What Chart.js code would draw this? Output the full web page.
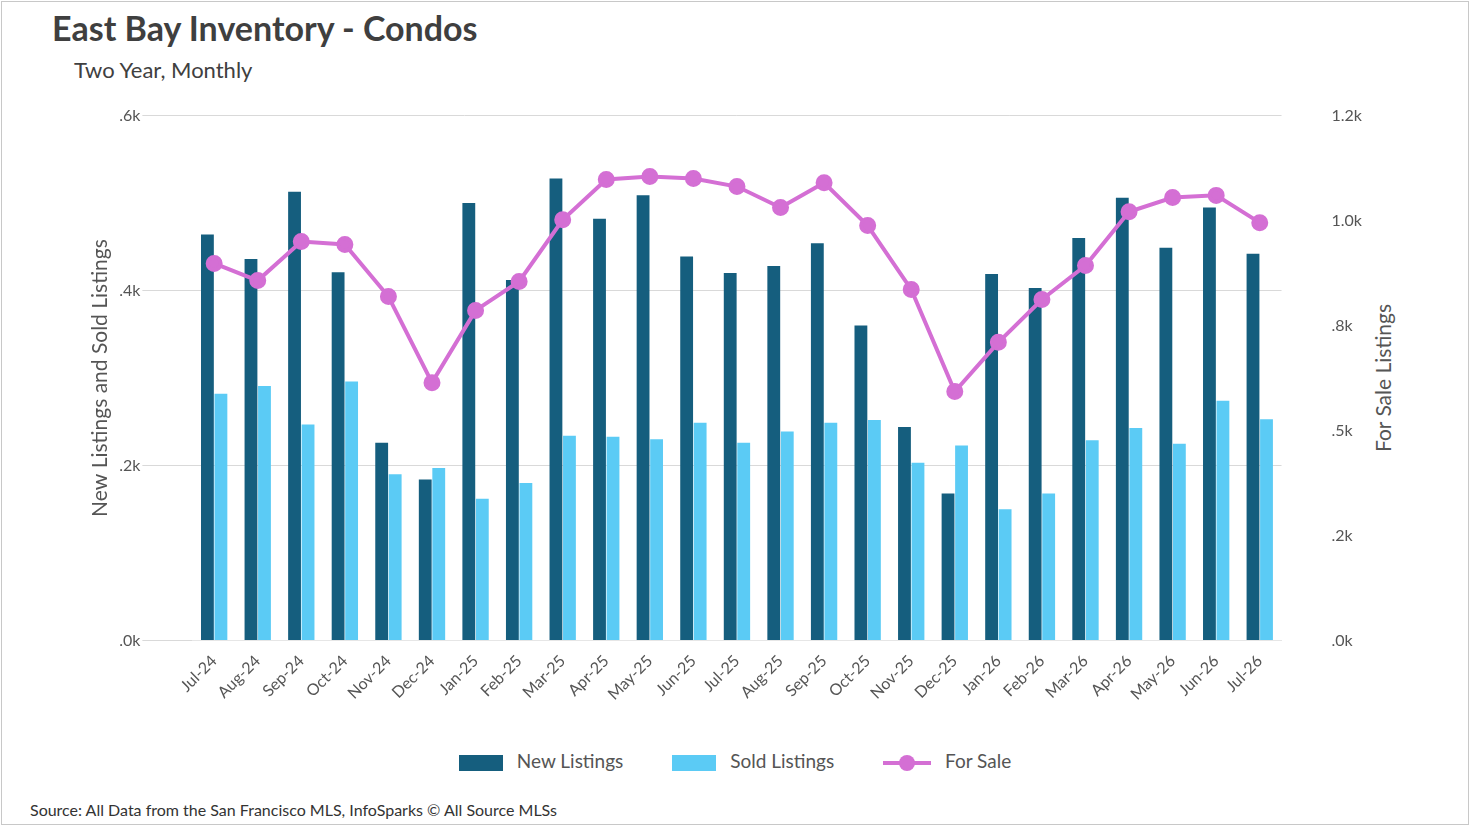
<!DOCTYPE html>
<html>
<head>
<meta charset="utf-8">
<script src="https://cdn.jsdelivr.net/npm/chart.js@4.4.1/dist/chart.umd.min.js"></script>
<style>
  body { margin: 0; background: #fff; font-family: Lato, sans-serif; color: #404040; }
  #frame { position: absolute; left: 1px; top: 1px; width: 1466px; height: 822px; border: 1px solid #c8c8c8; }
  #title { position: absolute; left: 52px; top: 7px; font-size: 34px; font-weight: bold; color: #3f3f3f; }
  #subtitle { position: absolute; left: 74px; top: 56px; font-size: 22px; color: #404040; }
  #wrap { position: absolute; left: 84px; top: 104px; width: 1280px; height: 603px; }
  #rtitle { position: absolute; left: 1382px; top: 378px; transform: translate(-50%, -50%) rotate(-90deg); font-size: 21px; color: #555; white-space: nowrap; }
  #legend { position: absolute; top: 746px; left: 0; width: 1470px; text-align: center; font-size: 19px; color: #555; }
  .item { display: inline-block; margin: 0 22px; vertical-align: middle; }
  .sw { display: inline-block; width: 44px; height: 16px; vertical-align: middle; margin-right: 14px; }
  .ln { display: inline-block; width: 48px; height: 4px; background: #d46fd4; vertical-align: middle; margin-right: 14px; position: relative; }
  .ln:after { content: ''; position: absolute; left: 16px; top: -6px; width: 16px; height: 16px; border-radius: 50%; background: #d46fd4; }
  #source { position: absolute; left: 30px; top: 800px; font-size: 16px; color: #333; }
</style>
</head>
<body>
<div id="frame"></div>
<div id="title">East Bay Inventory - Condos</div>
<div id="subtitle">Two Year, Monthly</div>
<div id="wrap"><canvas id="chart"></canvas></div>
<div id="rtitle">For Sale Listings</div>
<div id="legend">
  <span class="item"><span class="sw" style="background:#155e7e"></span>New Listings</span>
  <span class="item"><span class="sw" style="background:#5bcbf5"></span>Sold Listings</span>
  <span class="item"><span class="ln"></span>For Sale</span>
</div>
<div id="source">Source: All Data from the San Francisco MLS, InfoSparks © All Source MLSs</div>
<script>
// ===== Data =====
const months = ['Jul-24', 'Aug-24', 'Sep-24', 'Oct-24', 'Nov-24', 'Dec-24', 'Jan-25', 'Feb-25', 'Mar-25',
  'Apr-25', 'May-25', 'Jun-25', 'Jul-25', 'Aug-25', 'Sep-25', 'Oct-25', 'Nov-25', 'Dec-25',
  'Jan-26', 'Feb-26', 'Mar-26', 'Apr-26', 'May-26', 'Jun-26', 'Jul-26'];
const newListings = [464, 436, 513, 421, 226, 184, 500, 412, 528, 482, 509, 439, 420, 428, 454,
  360, 244, 168, 419, 403, 460, 506, 449, 495, 442];
const soldListings = [282, 291, 247, 296, 190, 197, 162, 180, 234, 233, 230, 249, 226, 239, 249,
  252, 203, 223, 150, 168, 229, 243, 225, 274, 253];
const forSale = [898, 857, 950, 943, 819, 614, 786, 855, 1002, 1098, 1105, 1100, 1081, 1031, 1090,
  988, 836, 593, 710, 812, 893, 1021, 1055, 1060, 995];
const leftTicks = ['.0k', '.2k', '.4k', '.6k'];
const rightTicks = ['.0k', '.2k', '.5k', '.8k', '1.0k', '1.2k'];

const tickFont = { family: 'Lato', size: 16 };

new Chart(document.getElementById('chart'), {
  data: {
    labels: months,
    datasets: [
      { type: 'line', label: 'For Sale', data: forSale, yAxisID: 'y1', borderColor: '#d46fd4',
        backgroundColor: '#d46fd4', borderWidth: 4, pointRadius: 6.5, tension: 0, order: 0 },
      { type: 'bar', label: 'New Listings', data: newListings, yAxisID: 'y', backgroundColor: '#155e7e',
        categoryPercentage: 0.62, barPercentage: 0.95, order: 1 },
      { type: 'bar', label: 'Sold Listings', data: soldListings, yAxisID: 'y', backgroundColor: '#5bcbf5',
        categoryPercentage: 0.62, barPercentage: 0.95, order: 1 }
    ]
  },
  options: {
    responsive: true,
    maintainAspectRatio: false,
    animation: false,
    plugins: { legend: { display: false }, tooltip: { enabled: false } },
    scales: {
      x: {
        grid: { display: false },
        border: { color: '#e6e6e6' },
        ticks: { color: '#555', font: tickFont, maxRotation: 45, minRotation: 45 }
      },
      y: {
        min: 0, max: 600,
        ticks: { stepSize: 200, color: '#555', font: tickFont, padding: 2, callback: (v, i) => leftTicks[i] },
        grid: { color: '#d9d9d9', tickLength: 50 },
        border: { display: false },
        title: { display: true, text: 'New Listings and Sold Listings', color: '#555', font: { family: 'Lato', size: 21 } }
      },
      y1: {
        position: 'right',
        min: 0, max: 1250,
        ticks: { stepSize: 250, color: '#555', font: tickFont, padding: 2, callback: (v, i) => rightTicks[i] },
        grid: { drawOnChartArea: false, tickLength: 48, tickColor: 'rgba(0,0,0,0)' },
        border: { display: false }
      }
    }
  }
});
</script>
</body>
</html>
